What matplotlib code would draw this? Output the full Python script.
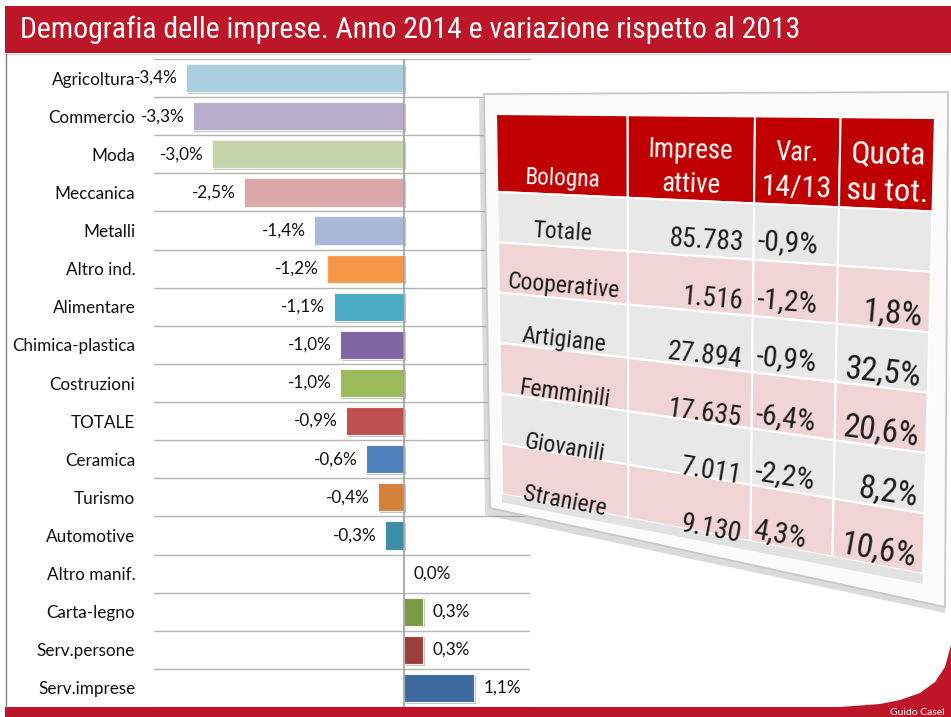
import os
import numpy as np
import matplotlib
matplotlib.use("Agg")
import matplotlib.pyplot as plt
from matplotlib.patches import Polygon, Rectangle
from matplotlib import font_manager as fm
from matplotlib.font_manager import FontProperties
import matplotlib.patheffects as pe

# ---------------- data ----------------
categories = ["Agricoltura", "Commercio", "Moda", "Meccanica", "Metalli", "Altro ind.",
              "Alimentare", "Chimica-plastica", "Costruzioni", "TOTALE", "Ceramica",
              "Turismo", "Automotive", "Altro manif.", "Carta-legno", "Serv.persone",
              "Serv.imprese"]
values = [-3.4, -3.3, -3.0, -2.5, -1.4, -1.2, -1.1, -1.0, -1.0, -0.9, -0.6,
          -0.4, -0.3, 0.0, 0.3, 0.3, 1.1]
bar_colors = ["#a9cfdf", "#b8aecb", "#c6d6ac", "#dba9a9", "#aab9d8", "#f79646",
              "#4bacc6", "#8064a2", "#9bbb59", "#c0504d", "#4f81bd",
              "#d5803b", "#3a8ea6", "#7f7f7f", "#7a9a45", "#9b3f3d", "#3d6a9e"]

table_header = ["Bologna", "Imprese\nattive", "Var.\n14/13", "Quota\nsu tot."]
row_labels = ["Totale", "Cooperative", "Artigiane", "Femminili", "Giovanili", "Straniere"]
imprese_attive = [85783, 1516, 27894, 17635, 7011, 9130]
var_14_13 = [-0.9, -1.2, -0.9, -6.4, -2.2, 4.3]
quota_su_tot = [None, 1.8, 32.5, 20.6, 8.2, 10.6]

title = "Demografia delle imprese. Anno 2014 e variazione rispetto al 2013"
credit = "Guido Casel"

# ---------------- fonts ----------------
names = {f.name for f in fm.fontManager.ttflist}
BODY = "Lato" if "Lato" in names else "DejaVu Sans"


def find_narrow():
    pref = []
    for f in fm.fontManager.ttflist:
        base = os.path.basename(f.fname).lower()
        nm = (f.name + " " + base).lower()
        narrow = ("narrow" in nm or "condensed" in nm or str(f.stretch).endswith("condensed"))
        bad = any(b in base for b in ("bold", "light", "thin", "black", "oblique", "italic",
                                       "medium", "semi", "extra", "mono"))
        if narrow and not bad and f.style == "normal":
            score = 0 if "liberation" in nm else (1 if "roboto" in nm else (2 if "dejavu" in nm else 3))
            pref.append((score, f.fname))
    return sorted(pref)[0][1] if pref else None


npath = find_narrow()
if npath:
    FP_N = FontProperties(fname=npath)
else:
    FP_N = FontProperties(family="Roboto" if "Roboto" in names else "DejaVu Sans")

RED = "#bd1628"
W, H = 951, 717
fig = plt.figure(figsize=(W / 100, H / 100), dpi=100)
fig.patch.set_facecolor("white")
renderer = fig.canvas.get_renderer()


def text_w(s, fp, size):
    t = fig.text(0, 0, s, fontproperties=fp, fontsize=size)
    w = t.get_window_extent(renderer).width
    t.remove()
    return w


def pct(v):
    return f"{v:.1f}".replace(".", ",") + "%"


# ---------------- bar chart ----------------
ax_l, ax_r, ax_t, ax_b = 154, 530, 59, 707
ax = fig.add_axes([ax_l / W, 1 - ax_b / H, (ax_r - ax_l) / W, (ax_b - ax_t) / H])
pxper = 64.0
zero_px = 404
ax.set_xlim(-(zero_px - ax_l) / pxper, (ax_r - zero_px) / pxper)
n = len(categories)
ax.set_ylim(n - 0.5, -0.5)
for s in ax.spines.values():
    s.set_visible(False)
ax.set_xticks([])
for k in range(n + 1):
    ax.axhline(k - 0.5, color="#b5b5b5", lw=1.0, zorder=1)
ax.axvline(0, color="#a0a0a0", lw=1.2, zorder=4)

ypos = np.arange(n)
bars = ax.barh(ypos, values, height=0.74, color=bar_colors, edgecolor="#f2f2f2",
               linewidth=0.8, zorder=3)
for b in bars:
    b.set_path_effects([pe.SimplePatchShadow(offset=(1.2, -1.2), shadow_rgbFace="#7a7a7a",
                                             alpha=0.45), pe.Normal()])
LBL = 12.3
ax.set_yticks(ypos)
ax.set_yticklabels(categories, fontfamily=BODY, fontsize=LBL, color="#111111")
ax.tick_params(axis="y", length=0, pad=13.5)
for i, v in enumerate(values):
    if v < 0:
        ax.annotate(pct(v), (v, i), xytext=(-6, 0), textcoords="offset points",
                    ha="right", va="center", fontsize=LBL, family=BODY, color="#111111")
    else:
        ax.annotate(pct(v), (v, i), xytext=(6.5, 0), textcoords="offset points",
                    ha="left", va="center", fontsize=LBL, family=BODY, color="#111111")

# ---------------- overlay (slide decorations + table) ----------------
ov = fig.add_axes([0, 0, 1, 1], zorder=10)
ov.set_xlim(0, W)
ov.set_ylim(H, 0)
ov.axis("off")
ov.patch.set_alpha(0)

# title banner
ov.add_patch(Rectangle((5, 6), W - 5, 47, fc=RED, ec="none"))
ov.plot([5, W], [53.5, 53.5], color="#d8d8d8", lw=1)
tsize = 20 * 779 / text_w(title, FP_N, 20)
ov.text(20, 38, title, color="white", fontproperties=FP_N, fontsize=tsize,
        va="baseline", ha="left")
# left frame line
ov.plot([5.5, 5.5], [54, 707], color="#7f7f7f", lw=1)

# footer swoosh
foot = [(5, 707), (840, 707), (880, 704), (900, 700), (920, 693), (935, 682), (945, 667),
        (951, 645), (951, 717), (5, 717)]
ov.add_patch(Polygon(foot, closed=True, fc=RED, ec="none"))
ov.text(890, 712.5, credit, color="white", fontsize=7.5, family=BODY, va="center", ha="left")

# table board
ov.add_patch(Polygon([(479, 99), (949, 97), (945, 613), (485, 515)], closed=True,
                     fc="#9a9a9a", ec="none", alpha=0.35))
ov.add_patch(Polygon([(484, 94), (948, 92), (945, 607), (490, 508)], closed=True,
                     fc="#fbfbfb", ec="#c8c8c8", lw=1.3))

# tilted table plane (u,v in [0,1]) mapped bilinearly onto the slide
TL, TR, BR, BLc = (np.array(p, float) for p in [(496, 114), (935, 118), (923, 574), (502, 494)])


def P(u, v):
    p = (1 - u) * (1 - v) * TL + u * (1 - v) * TR + u * v * BR + (1 - u) * v * BLc
    return p[0], p[1]


def quad(u0, u1, v0, v1, fc, ec="white", lw=1.5):
    pts = [P(u0, v0), P(u1, v0), P(u1, v1), P(u0, v1)]
    ov.add_patch(Polygon(pts, closed=True, fc=fc, ec=ec, lw=lw, joinstyle="miter"))


# font calibration for the table font (targets measured as pixel widths)
fcal = 1.12 * np.mean([102 / text_w("Cooperative", FP_N, 16.5),
                       65 / text_w("85.783", FP_N, 18.7),
                       76 / text_w("Imprese", FP_N, 18.5)])


def ptext(u, v, s, size, ha="center", color="#1c1c1c"):
    x, y = P(u, v)
    x1, y1 = P(u - 0.02, v)
    x2, y2 = P(u + 0.02, v)
    ang = np.degrees(np.arctan2(-(y2 - y1), x2 - x1))
    ov.text(x, y, s, rotation=ang, rotation_mode="anchor", ha=ha, va="center",
            fontproperties=FP_N, fontsize=size * fcal, color=color)


ucols = [0.0, 0.30, 0.59, 0.785, 1.0]
vh = 0.205
rh = (1 - vh) / len(row_labels)

for j in range(4):
    quad(ucols[j], ucols[j + 1], 0, vh, "#c00000")
for k in range(len(row_labels)):
    fc = "#e9e8e8" if k % 2 == 0 else "#f1d5d6"
    for j in range(4):
        quad(ucols[j], ucols[j + 1], vh + k * rh, vh + (k + 1) * rh, fc)
quad(0, 1, 1.0, 1.022, "#e2e2e2", ec="none", lw=0)

# header texts
ptext(0.15, 0.165, table_header[0], 16.0, color="white")
hdr_sizes = [(18.5, 18.5), (18.5, 21.0), (22.0, 22.5)]
hdr_u = [0.445, 0.6875, 0.895]
for j in range(1, 4):
    l1, l2 = table_header[j].split("\n")
    ptext(hdr_u[j - 1], 0.083, l1, hdr_sizes[j - 1][0], color="white")
    ptext(hdr_u[j - 1], 0.166, l2, hdr_sizes[j - 1][1], color="white")

# body texts
for k, lab in enumerate(row_labels):
    top = vh + k * rh
    ptext(0.15, top + rh * (0.72 + 0.04 * k), lab, 16.5)
    ptext(0.567, top + rh * (0.72 + 0.04 * k), f"{imprese_attive[k]:,}".replace(",", "."),
          19.0, ha="right")
    ptext(0.597, top + rh * (0.68 + 0.02 * k), pct(var_14_13[k]), 20.5, ha="left")
    if quota_su_tot[k] is not None:
        ptext(0.982, top + rh * 0.75, pct(quota_su_tot[k]), 23.0, ha="right")

fig.savefig("out.png", dpi=100, facecolor="white")
